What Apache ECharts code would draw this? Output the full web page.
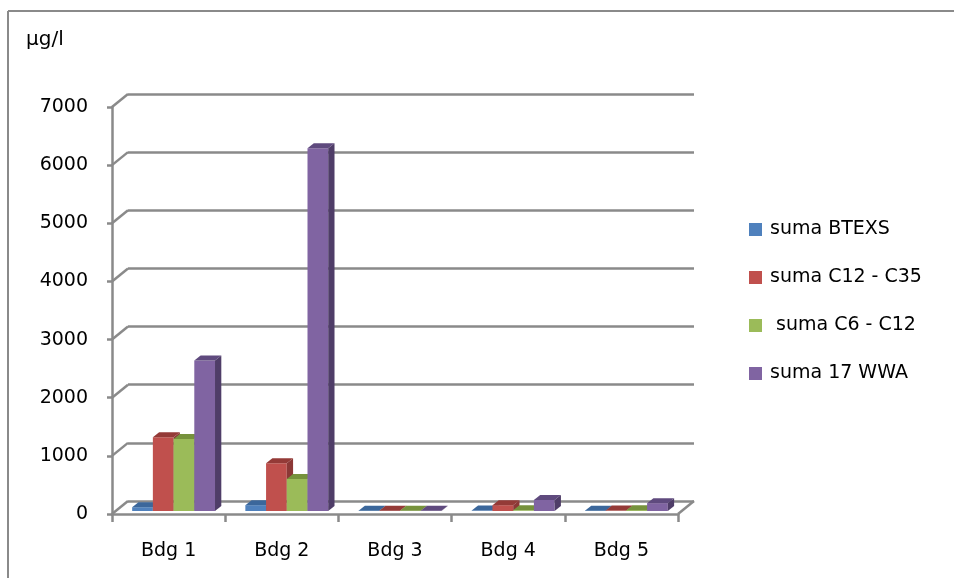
<!DOCTYPE html>
<html>
<head>
<meta charset="utf-8">
<script src="https://cdn.jsdelivr.net/npm/echarts@6/dist/echarts.min.js"></script>
<style>
  html, body { margin: 0; padding: 0; background: #fff; }
  #chart { width: 954px; height: 578px; }
</style>
</head>
<body>
<div id="chart"></div>
<script>
// data
var categories = ['Bdg 1', 'Bdg 2', 'Bdg 3', 'Bdg 4', 'Bdg 5'];
var seriesNames = ['suma BTEXS', 'suma C12 - C35', ' suma C6 - C12', 'suma 17 WWA'];
var btexs = [65, 100, 5, 8, 5];
var c12c35 = [1270, 820, 5, 100, 8];
var c6c12 = [1240, 550, 5, 12, 15];
var wwa17 = [2590, 6240, 5, 190, 135];
var yTicks = [0, 1000, 2000, 3000, 4000, 5000, 6000, 7000];

// front, top, side colours of the 3d columns
var faces = [
  ['#4F81BD', '#3B679B', '#385D8A'],
  ['#C0504D', '#943A37', '#8C3836'],
  ['#9BBB59', '#76923C', '#71893F'],
  ['#8064A2', '#5F4A7E', '#4F3D68']
];
var gridColor = '#8a8a8a';
var font = 'DejaVu Sans';
var depthX = 16, depthY = -13;   // offset of the back wall
var barDx = 6.3, barDy = -5;     // depth of a column

var chart = echarts.init(document.getElementById('chart'));

function renderBar(i) {
  return function (params, api) {
    var cat = api.value(0);
    var base = api.coord([cat, 0]);
    var top = api.coord([cat, api.value(1)]);
    var band = api.size([1, 0])[0];
    var w = band * 0.183;
    var x = base[0] - band * 0.322 + i * w;
    var y0 = base[1] - 3;
    var y1 = top[1] - 3;
    var c = faces[i];
    return {
      type: 'group',
      children: [
        { type: 'rect', shape: { x: x, y: y1, width: w, height: y0 - y1 }, style: { fill: c[0] } },
        { type: 'polygon', shape: { points: [[x, y1], [x + w, y1], [x + w + barDx, y1 + barDy], [x + barDx, y1 + barDy]] }, style: { fill: c[1] } },
        { type: 'polygon', shape: { points: [[x + w, y1], [x + w, y0], [x + w + barDx, y0 + barDy], [x + w + barDx, y1 + barDy]] }, style: { fill: c[2] } }
      ]
    };
  };
}

// diagonals joining the front axis ticks to the back wall lines
function renderFrame(params, api) {
  var cs = params.coordSys;
  var y = api.coord([0, api.value(1)])[1];
  var lines = [{
    type: 'line',
    shape: { x1: cs.x, y1: y, x2: cs.x + depthX, y2: y + depthY },
    style: { stroke: gridColor, lineWidth: 2.5 }
  }];
  if (api.value(1) === 0) {
    lines.push({
      type: 'line',
      shape: { x1: cs.x + cs.width, y1: y, x2: cs.x + cs.width + depthX, y2: y + depthY },
      style: { stroke: gridColor, lineWidth: 2.5 }
    });
  }
  return { type: 'group', children: lines };
}

var allValues = [btexs, c12c35, c6c12, wwa17];
var series = [{
  name: 'frame',
  type: 'custom',
  xAxisIndex: 0,
  yAxisIndex: 0,
  silent: true,
  renderItem: renderFrame,
  encode: { x: 0, y: 1 },
  data: yTicks.map(function (v) { return [0, v]; }),
  z: 1
}];
allValues.forEach(function (vals, i) {
  series.push({
    name: seriesNames[i],
    type: 'custom',
    xAxisIndex: 0,
    yAxisIndex: 0,
    renderItem: renderBar(i),
    encode: { x: 0, y: 1 },
    itemStyle: { color: faces[i][0] },
    data: vals.map(function (v, k) { return [k, v]; }),
    z: 3
  });
});

var option = {
  animation: false,
  color: faces.map(function (f) { return f[0]; }),
  grid: [
    { left: 112, top: 107, width: 566, height: 407 },
    { left: 128, top: 94, width: 566, height: 407 }
  ],
  legend: {
    data: seriesNames,
    orient: 'vertical',
    left: 744,
    top: 215,
    icon: 'rect',
    itemWidth: 13,
    itemHeight: 13,
    itemGap: 29,
    textStyle: { fontFamily: font, fontSize: 19, color: '#000', padding: [0, 0, 0, 3] }
  },
  xAxis: [
    {
      type: 'category',
      gridIndex: 0,
      data: categories,
      axisLine: { lineStyle: { color: gridColor, width: 2.5 } },
      axisTick: { show: true, length: 8, lineStyle: { color: gridColor, width: 2.5 } },
      axisLabel: { margin: 28, fontFamily: font, fontSize: 19, color: '#000' },
      splitLine: { show: false }
    },
    {
      type: 'category',
      gridIndex: 1,
      data: categories,
      show: false
    }
  ],
  yAxis: [
    {
      type: 'value',
      gridIndex: 0,
      min: 0,
      max: 7000,
      interval: 1000,
      axisLine: { show: true, lineStyle: { color: gridColor, width: 2.5 } },
      axisTick: { show: true, length: 5, lineStyle: { color: gridColor, width: 2.5 } },
      axisLabel: {
        margin: 24, fontFamily: font, fontSize: 19, color: '#000',
        formatter: function (v) { return String(v); }
      },
      splitLine: { show: false }
    },
    {
      type: 'value',
      gridIndex: 1,
      min: 0,
      max: 7000,
      interval: 1000,
      axisLine: { show: false },
      axisTick: { show: false },
      axisLabel: { show: false },
      splitLine: { show: true, lineStyle: { color: gridColor, width: 2.5 } }
    }
  ],
  graphic: [
    { type: 'line', shape: { x1: 8, y1: 11, x2: 954, y2: 11 }, style: { stroke: '#8a8a8a', lineWidth: 2 } },
    { type: 'line', shape: { x1: 8, y1: 11, x2: 8, y2: 578 }, style: { stroke: '#8a8a8a', lineWidth: 2 } },
    { type: 'text', left: 26, top: 30, style: { text: 'µg/l', font: '20px "DejaVu Sans"', fill: '#000' } }
  ],
  series: series
};

chart.setOption(option);
</script>
</body>
</html>
